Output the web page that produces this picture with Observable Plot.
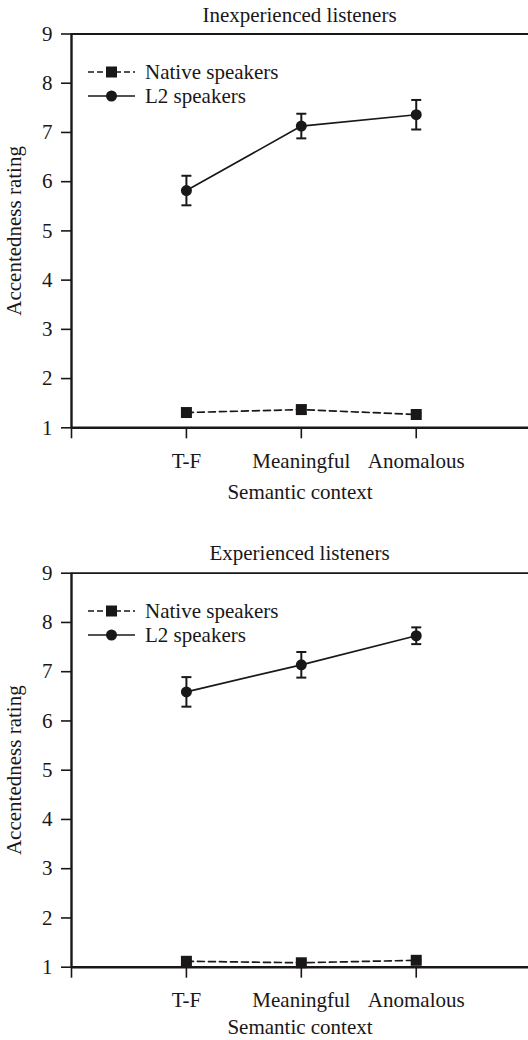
<!DOCTYPE html>
<html><head><meta charset="utf-8">
<script src="https://cdn.jsdelivr.net/npm/d3@7"></script>
<script src="https://cdn.jsdelivr.net/npm/@observablehq/plot@0.6"></script>
<style>
body{margin:0;background:#fff;font-family:"Liberation Serif","Times New Roman",serif;color:#1a1718;}
.panel{position:relative;width:528px;overflow:hidden;}
.panel svg{display:block;position:absolute;left:0;top:0;}
.title{position:absolute;left:71px;width:457px;text-align:center;font-size:21px;line-height:24px;top:3px;z-index:2;}
.legend{position:absolute;left:88px;font-size:21px;z-index:2;}
.legend .row{display:flex;align-items:center;height:24px;white-space:nowrap;}
.legend .row svg{position:static;margin-right:10px;}
</style></head><body>
<div id="chart"></div>
<script>
const contexts = ["T-F", "Meaningful", "Anomalous"];
const yTicks = [1, 2, 3, 4, 5, 6, 7, 8, 9];
const panelTitles = ["Inexperienced listeners", "Experienced listeners"];
const seriesNames = ["Native speakers", "L2 speakers"];
const inexpNative = [1.31, 1.37, 1.27];
const inexpNativeErr = [0.03, 0.08, 0.03];
const inexpL2 = [5.82, 7.13, 7.36];
const inexpL2Err = [0.30, 0.25, 0.30];
const expNative = [1.12, 1.09, 1.14];
const expNativeErr = [0.02, 0.02, 0.02];
const expL2 = [6.59, 7.14, 7.73];
const expL2Err = [0.30, 0.26, 0.17];

const ink = "#1a1718";
const font = "'Liberation Serif','Times New Roman',serif";

const capSymbol = {
  draw(ctx, size) {
    const r = Math.sqrt(size / Math.PI);
    ctx.moveTo(-r, 0);
    ctx.lineTo(r, 0);
  }
};

function rows(vals, errs) {
  return contexts.map((c, i) => ({x: i + 1, y: vals[i], lo: vals[i] - errs[i], hi: vals[i] + errs[i]}));
}

function seriesMarks(data, symbol, r, dash) {
  return [
    Plot.ruleX(data, {x: "x", y1: "lo", y2: "hi", stroke: ink, strokeWidth: 2}),
    Plot.dot(data, {x: "x", y: "lo", symbol: capSymbol, r: 5, fill: "none", stroke: ink, strokeWidth: 2}),
    Plot.dot(data, {x: "x", y: "hi", symbol: capSymbol, r: 5, fill: "none", stroke: ink, strokeWidth: 2}),
    Plot.line(data, {x: "x", y: "y", stroke: ink, strokeWidth: 1.7, strokeDasharray: dash}),
    Plot.dot(data, {x: "x", y: "y", symbol, r, fill: ink, stroke: "none"})
  ];
}

function makePanel(title, nat, natErr, l2, l2Err, panelH, mt, mb, xLabelOffset) {
  const div = document.createElement("div");
  div.className = "panel";
  div.style.height = panelH + "px";
  const plot = Plot.plot({
    width: 528, height: panelH,
    marginLeft: 71, marginRight: 0, marginTop: mt, marginBottom: mb,
    style: {fontFamily: font, fontSize: "21px", color: ink, background: "transparent"},
    x: {type: "linear", domain: [0, 3.977]},
    y: {type: "linear", domain: [1, 9]},
    marks: [
      Plot.ruleY([9], {stroke: ink, strokeWidth: 1.8}),
      Plot.axisY({ticks: yTicks, tickSize: 10, tickPadding: 9, stroke: ink, strokeWidth: 1.6, fontSize: 21,
        label: "Accentedness rating", labelAnchor: "center", labelOffset: 65, labelArrow: false}),
      Plot.axisX({ticks: [0, 1, 2, 3], tickFormat: d => d === 0 ? "" : contexts[d - 1], tickSize: 11, tickPadding: 14,
        stroke: ink, strokeWidth: 1.6, fontSize: 21,
        label: "Semantic context", labelAnchor: "center", labelOffset: xLabelOffset, labelArrow: false}),
      ...seriesMarks(rows(nat, natErr), "square", 6.2, "7,4"),
      ...seriesMarks(rows(l2, l2Err), "circle", 5.5, null),
      Plot.ruleX([0], {stroke: ink, strokeWidth: 2.4}),
      Plot.ruleY([1], {stroke: ink, strokeWidth: 2.4})
    ]
  });
  div.appendChild(plot);
  const t = document.createElement("div");
  t.className = "title";
  t.textContent = title;
  div.appendChild(t);
  const lg = document.createElement("div");
  lg.className = "legend";
  lg.style.top = (mt + 26.5) + "px";
  const sw = [
    `<svg width="47" height="24"><line x1="0" x2="47" y1="12" y2="12" stroke="${ink}" stroke-width="1.7" stroke-dasharray="6,3"/><rect x="18" y="6.5" width="11" height="11" fill="${ink}"/></svg>`,
    `<svg width="47" height="24"><line x1="0" x2="47" y1="12" y2="12" stroke="${ink}" stroke-width="1.7"/><circle cx="23.5" cy="12" r="5.5" fill="${ink}"/></svg>`
  ];
  seriesNames.forEach((n, i) => {
    const row = document.createElement("div");
    row.className = "row";
    row.innerHTML = sw[i];
    const s = document.createElement("span");
    s.textContent = n;
    row.appendChild(s);
    lg.appendChild(row);
  });
  div.appendChild(lg);
  return div;
}

const root = document.getElementById("chart");
root.appendChild(makePanel(panelTitles[0], inexpNative, inexpNativeErr, inexpL2, inexpL2Err, 538, 33.5, 110.7, 71));
root.appendChild(makePanel(panelTitles[1], expNative, expNativeErr, expL2, expL2Err, 502, 34.7, 73.3, 67));
</script>
</body></html>
